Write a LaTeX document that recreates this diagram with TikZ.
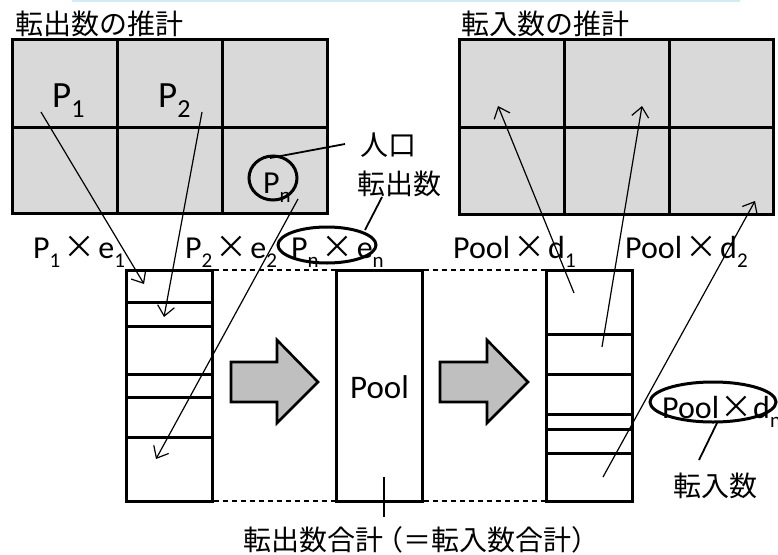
\documentclass[tikz,border=0pt]{standalone}
\usepackage{fontspec}
\setmainfont{Carlito}
\newfontfamily\jp{Noto Sans CJK JP}
\usetikzlibrary{arrows.meta}
\definecolor{gridgray}{HTML}{D9D9D9}
\definecolor{arrowgray}{HTML}{BFBFBF}
\definecolor{topcyan}{HTML}{D2ECF5}
\newcommand\sbx[1]{\raisebox{-9pt}{\fontsize{21}{21}\selectfont #1}}
\newcommand\sbxl[1]{\raisebox{-10pt}{\fontsize{26}{26}\selectfont #1}}
\newcommand\tms{\kern3pt{\jp\fontsize{32}{32}\selectfont ×}\kern3pt}
\begin{document}
\begin{tikzpicture}[x=1pt,y=-1pt,
  cellgrid/.style={line width=3pt, fill=gridgray},
  gridline/.style={line width=3pt},
  stackbox/.style={line width=3pt},
  conn/.style={line width=1.2pt, -{Straight Barb[length=10pt,width=17pt,line width=1.2pt]}},
  ann/.style={line width=1.8pt},
  dashln/.style={line width=1.3pt, dash pattern=on 5pt off 4pt},
  blockarrow/.style={line width=2.6pt, fill=arrowgray, line join=miter},
  oval/.style={line width=3pt},
  jplabel/.style={font=\jp\fontsize{28}{30}\selectfont, inner sep=0pt, anchor=west},
  latlabel/.style={font=\fontsize{32}{34}\selectfont, inner sep=0pt, anchor=base west}]
\useasboundingbox (0,0) rectangle (778,554);
\fill[topcyan] (72,0) rectangle (740,1.6);

% titles
\node[jplabel] (tout) at (15,24) {転出数の推計};
\node[jplabel] (tin) at (461,24) {転入数の推計};

% left grid
\draw[cellgrid] (12,39) rectangle (327,213);
\draw[gridline] (117,39) -- (117,213) (222,39) -- (222,213) (12,127) -- (327,127);
% right grid
\draw[cellgrid] (459,39) rectangle (773,214);
\draw[gridline] (564,39) -- (564,214) (669,39) -- (669,214) (459,127) -- (773,127);

% labels in left grid
\node[latlabel, font=\fontsize{37}{38}\selectfont] (p1) at (52,107) {P\sbxl{1}};
\node[latlabel, font=\fontsize{37}{38}\selectfont] (p2) at (158,107) {P\sbxl{2}};
\node[latlabel] (pn) at (263,193) {P\sbx{n}};
\draw[oval] (273,178) ellipse [x radius=24pt, y radius=22pt];

% side labels
\node[jplabel] (jinko) at (360,145) {人口};
\node[jplabel] (tenshutsu) at (357,184) {転出数};
\coordinate (jk1) at (270,158);
\coordinate (jk2) at (345,144);
\draw[ann] (jk1) -- (jk2);

% products
\node[latlabel] (pe1) at (33,258) {P\sbx{1}\tms e\sbx{1}};
\node[latlabel] (pe2) at (185,258) {P\sbx{2}\tms e\sbx{2}};
\node[latlabel] (pen) at (291,258) {P\sbx{n}\tms e\sbx{n}};
\draw[oval] (327,245) ellipse [x radius=49pt, y radius=18pt];
\coordinate (ts1) at (382,197);
\coordinate (ts2) at (365,230);
\draw[ann] (ts1) -- (ts2);

\node[latlabel] (pd1) at (453,258) {Pool\tms d\sbx{1}};
\node[latlabel] (pd2) at (625,258) {Pool\tms d\sbx{2}};

% left stack
\draw[stackbox] (126,270) rectangle (212,501);
\draw[stackbox] (126,302) -- (212,302) (126,326) -- (212,326) (126,374) -- (212,374)
  (126,397) -- (212,397) (126,437) -- (212,437);

% pool
\draw[stackbox] (336,270) rectangle (422,501);
\node[latlabel, font=\fontsize{33}{35}\selectfont] (pool) at (350,398) {Pool};

% right stack
\draw[stackbox] (546,270) rectangle (632,501);
\draw[stackbox] (546,334) -- (632,334) (546,374) -- (632,374) (546,414) -- (632,414)
  (546,429) -- (632,429) (546,453) -- (632,453);

% dashed lines
\draw[dashln] (213.5,270) -- (334.5,270) (213.5,501) -- (334.5,501);
\draw[dashln] (423.5,270) -- (544.5,270) (423.5,501) -- (544.5,501);

% block arrows
\draw[blockarrow] (231,362) -- (277,362) -- (277,340) -- (318,382) -- (277,423) -- (277,402) -- (231,402) -- cycle;
\draw[blockarrow] (440,362) -- (487,362) -- (487,340) -- (528,382) -- (487,423) -- (487,402) -- (440,402) -- cycle;

% connectors out
\coordinate (a1s) at (41,112);  \coordinate (a1e) at (144,284);
\coordinate (a2s) at (202,112); \coordinate (a2e) at (164,317);
\coordinate (ans) at (298,199); \coordinate (ane) at (156,459);
\draw[conn] (a1s) -- (a1e);
\draw[conn] (a2s) -- (a2e);
\draw[conn] (ans) -- (ane);

% connectors in
\coordinate (b1s) at (574,293); \coordinate (b1e) at (498,106);
\coordinate (b2s) at (602,347); \coordinate (b2e) at (642,106);
\coordinate (bns) at (603,477); \coordinate (bne) at (755,201);
\draw[conn] (b1s) -- (b1e);
\draw[conn] (b2s) -- (b2e);
\draw[conn] (bns) -- (bne);

% pool x dn
\node[latlabel] (pdn) at (662,418) {Pool\kern1pt{\jp\fontsize{32}{32}\selectfont ×}\kern1pt d\sbx{n}};
\draw[oval] (713,402) ellipse [x radius=63pt, y radius=20pt];
\coordinate (tn1) at (717,423);
\coordinate (tn2) at (699,460);
\draw[ann] (tn1) -- (tn2);
\node[jplabel] (tennyu) at (673,486) {転入数};

% bottom
\coordinate (pv1) at (384,477);
\coordinate (pv2) at (384,517);
\draw[ann] (pv1) -- (pv2);
\node[jplabel] (total) at (243,540) {転出数合計\kern-8pt（＝転入数合計）};
\end{tikzpicture}
\end{document}
